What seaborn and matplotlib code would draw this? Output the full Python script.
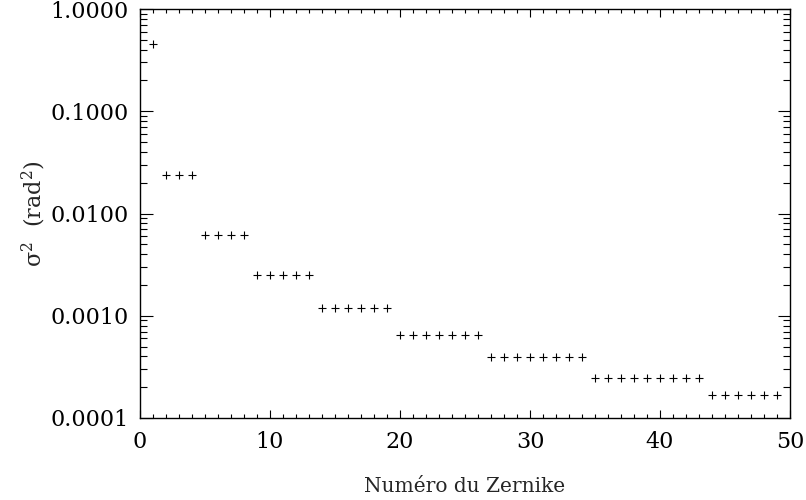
import matplotlib
matplotlib.use("Agg")
import matplotlib.pyplot as plt
import matplotlib.ticker as mticker
import seaborn as sns
import pandas as pd

zernike = [1, 2, 3, 4, 5, 6, 7, 8, 9, 10, 11, 12, 13, 14, 15, 16, 17, 18, 19,
           20, 21, 22, 23, 24, 25, 26, 27, 28, 29, 30, 31, 32, 33, 34, 35, 36,
           37, 38, 39, 40, 41, 42, 43, 44, 45, 46, 47, 48, 49]
variance = [0.45,
            0.0236, 0.0236, 0.0236,
            0.0062, 0.0062, 0.0062, 0.0062,
            0.00252, 0.00252, 0.00252, 0.00252, 0.00252,
            0.0012, 0.0012, 0.0012, 0.0012, 0.0012, 0.0012,
            0.00065, 0.00065, 0.00065, 0.00065, 0.00065, 0.00065, 0.00065,
            0.000395, 0.000395, 0.000395, 0.000395, 0.000395, 0.000395, 0.000395, 0.000395,
            0.000247, 0.000247, 0.000247, 0.000247, 0.000247, 0.000247, 0.000247, 0.000247, 0.000247,
            0.000168, 0.000168, 0.000168, 0.000168, 0.000168, 0.000168]
y_ticks = [0.0001, 0.001, 0.01, 0.1, 1.0]
x_ticks = [0, 10, 20, 30, 40, 50]

df = pd.DataFrame({"zernike": zernike, "variance": variance})

sns.set_style("ticks")
plt.rcParams["font.family"] = ["DejaVu Serif"]
plt.rcParams["mathtext.fontset"] = "dejavuserif"

fig = plt.figure(figsize=(8.06, 5.0), dpi=100)
ax = fig.add_axes([140/806, 1 - 418/500, 650/806, 409/500])

sns.scatterplot(data=df, x="zernike", y="variance", marker="+", color="black",
                s=28, linewidth=0.8, ax=ax, legend=False)

ax.set_yscale("log")
ax.set_xlim(0, 50)
ax.set_ylim(0.0001, 1.0)
ax.set_xticks(x_ticks)
ax.xaxis.set_minor_locator(mticker.MultipleLocator(1))
ax.set_yticks(y_ticks)
ax.yaxis.set_minor_locator(mticker.LogLocator(base=10, subs=[2, 3, 4, 5, 6, 7, 8, 9]))
ax.yaxis.set_major_formatter(mticker.FuncFormatter(lambda v, p: f"{v:.4f}"))
ax.yaxis.set_minor_formatter(mticker.NullFormatter())

for s in ax.spines.values():
    s.set_visible(True)
    s.set_color("black")
    s.set_linewidth(1.0)

ax.tick_params(axis="both", which="both", direction="in", top=True, right=True,
               colors="black", labelsize=16)
ax.tick_params(axis="x", which="major", length=6, width=0.8, pad=9)
ax.tick_params(axis="x", which="minor", length=3, width=0.8)
ax.tick_params(axis="y", which="major", length=9, width=0.8, pad=8)
ax.tick_params(axis="y", which="minor", length=5, width=0.8)

ax.set_xlabel("Numéro du Zernike", fontsize=14.5, labelpad=18)
ax.set_ylabel("σ${}^{2}$  (rad${}^{2}$)", fontsize=16, labelpad=2)

fig.savefig("out.png", dpi=100)
